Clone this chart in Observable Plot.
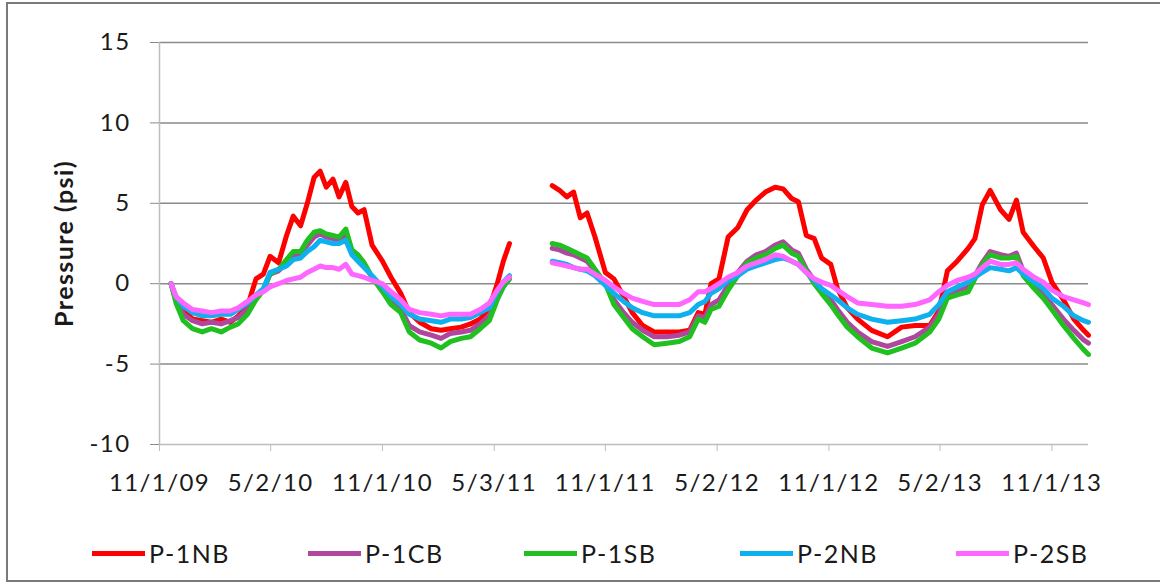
<!DOCTYPE html>
<html><head><meta charset="utf-8">
<script src="https://cdn.jsdelivr.net/npm/d3@7"></script>
<script src="https://cdn.jsdelivr.net/npm/@observablehq/plot@0.6"></script>
<style>
html,body{margin:0;padding:0;background:#fff;overflow:hidden;}
#wrap{position:relative;width:1160px;height:584px;font-family:Lato,"Open Sans",sans-serif;color:#1a1a1a;}
#frame{position:absolute;left:6px;top:2px;width:1170px;height:580px;border:2px solid #7a7a7a;box-sizing:border-box;}
#chart{position:absolute;left:0;top:0;}
#chart svg text{letter-spacing:1.4px;}
#legend{position:absolute;left:0;top:534px;width:1160px;height:38px;}
.li{position:absolute;top:0;height:38px;display:flex;align-items:center;font-size:25px;letter-spacing:1.5px;}
.li span.sw{display:inline-block;width:53px;height:5px;margin-right:4px;}
</style></head>
<body><div id="wrap"><div id="frame"></div><div id="chart"></div><div id="legend"></div></div>
<script>
const seriesNames = ["P-1NB","P-1CB","P-1SB","P-2NB","P-2SB"];
const seriesColors = ["#ff0000","#b0479f","#1fc01f","#0fb0ee","#ff66ff"];
const tickDates = ["2009-11-01","2010-05-02","2010-11-01","2011-05-03","2011-11-01","2012-05-02","2012-11-01","2013-05-02","2013-11-01"];
const tickLabels = ["11/1/09","5/2/10","11/1/10","5/3/11","11/1/11","5/2/12","11/1/12","5/2/13","11/1/13"];
const yTicks = [-10,-5,0,5,10,15];
const yTickLabels = ["-10","-5","0","5","10","15"];
const dates = [
"2009-11-20","2009-11-28","2009-12-10","2009-12-25","2010-01-10","2010-01-25","2010-02-10","2010-02-25","2010-03-10","2010-03-25",
"2010-04-08","2010-04-20","2010-05-01","2010-05-15","2010-05-28","2010-06-08","2010-06-20","2010-07-01","2010-07-12","2010-07-22",
"2010-08-01","2010-08-12","2010-08-22","2010-09-02","2010-09-12","2010-09-22","2010-10-02","2010-10-15","2010-11-01","2010-11-15",
"2010-12-01","2010-12-15","2011-01-01","2011-01-20","2011-02-05","2011-02-20","2011-03-10","2011-03-25","2011-04-10","2011-04-25",
"2011-05-08","2011-05-18","2011-05-28","2011-07-01",
"2011-08-06","2011-08-18","2011-08-30","2011-09-10","2011-09-21","2011-10-02","2011-10-15","2011-11-01","2011-11-15","2011-12-01",
"2011-12-15","2012-01-01","2012-01-20","2012-02-10","2012-03-01","2012-03-18","2012-04-01","2012-04-12","2012-04-22","2012-05-05",
"2012-05-20","2012-06-05","2012-06-20","2012-07-05","2012-07-20","2012-08-05","2012-08-18","2012-09-01","2012-09-12","2012-09-25",
"2012-10-08","2012-10-20","2012-11-04","2012-11-15","2012-12-01","2012-12-18","2013-01-10","2013-02-05","2013-02-28","2013-03-22",
"2013-04-15","2013-04-30","2013-05-14","2013-05-30","2013-06-17","2013-06-28","2013-07-10","2013-07-23","2013-08-09","2013-08-23",
"2013-09-04","2013-09-15","2013-10-03","2013-10-18","2013-11-01","2013-11-20","2013-12-07","2013-12-23","2013-12-31"];
const p1nb = [0.0,-1.0,-1.6,-2.2,-2.3,-2.4,-2.2,-2.4,-2.0,-1.4,
0.3,0.6,1.7,1.3,3.0,4.2,3.6,5.0,6.6,7.0,
6.0,6.5,5.4,6.3,4.8,4.4,4.6,2.4,1.4,0.4,
-0.6,-1.8,-2.4,-2.8,-2.9,-2.8,-2.7,-2.5,-2.2,-1.5,
0.0,1.4,2.5,null,
6.1,5.8,5.4,5.7,4.1,4.4,2.9,0.7,0.3,-0.8,
-1.8,-2.6,-3.0,-3.0,-3.0,-2.9,-1.8,-1.9,0.0,0.3,
2.9,3.5,4.6,5.2,5.7,6.0,5.9,5.3,5.1,3.0,
2.8,1.6,1.2,-0.3,-1.5,-2.2,-2.9,-3.3,-2.7,-2.6,
-2.6,-1.7,0.8,1.4,2.2,2.8,4.9,5.8,4.6,4.0,
5.2,3.2,2.3,1.6,0.1,-1.0,-2.2,-2.9,-3.2];
const p1cb = [0.0,-1.0,-1.9,-2.3,-2.5,-2.4,-2.5,-2.3,-2.1,-1.6,
-0.9,-0.4,0.6,0.8,1.3,1.8,1.8,2.4,2.9,3.1,
2.9,2.8,2.7,3.1,2.0,1.6,1.2,0.4,-0.4,-1.1,
-1.6,-2.6,-3.0,-3.2,-3.4,-3.1,-3.0,-2.9,-2.5,-2.0,
-0.8,-0.1,0.3,null,
2.2,2.1,1.9,1.8,1.6,1.4,0.8,0.0,-1.0,-1.8,
-2.4,-2.9,-3.3,-3.3,-3.2,-3.0,-2.0,-2.1,-1.3,-1.0,
-0.1,0.7,1.4,1.8,2.0,2.4,2.6,2.1,1.9,0.9,
0.2,-0.4,-1.0,-1.6,-2.4,-3.0,-3.6,-3.9,-3.6,-3.3,
-2.7,-1.9,-0.7,-0.4,-0.2,0.5,1.3,2.0,1.8,1.7,
1.9,0.8,0.0,-0.6,-1.3,-2.2,-2.9,-3.5,-3.7];
const p1sb = [0.0,-1.2,-2.3,-2.8,-3.0,-2.8,-3.0,-2.7,-2.5,-1.9,
-1.0,-0.4,0.6,0.9,1.5,2.0,2.0,2.7,3.2,3.3,
3.1,3.0,2.9,3.4,2.1,1.8,1.3,0.4,-0.5,-1.3,
-1.8,-3.0,-3.5,-3.7,-4.0,-3.6,-3.4,-3.3,-2.8,-2.3,
-1.0,-0.2,0.3,null,
2.5,2.4,2.2,2.0,1.8,1.6,0.9,0.0,-1.3,-2.1,
-2.8,-3.3,-3.8,-3.7,-3.6,-3.3,-2.2,-2.4,-1.6,-1.4,
-0.4,0.5,1.3,1.6,1.8,2.2,2.4,1.9,1.7,0.8,
0.0,-0.6,-1.3,-1.9,-2.7,-3.3,-4.0,-4.3,-4.0,-3.7,
-3.0,-2.2,-0.9,-0.7,-0.5,0.3,1.2,1.8,1.6,1.6,
1.7,0.5,-0.3,-0.9,-1.6,-2.6,-3.4,-4.1,-4.4];
const p2nb = [0.0,-0.8,-1.4,-1.8,-2.0,-2.0,-1.9,-1.9,-1.6,-1.2,
-0.7,-0.3,0.7,0.9,1.1,1.5,1.6,2.0,2.3,2.7,
2.6,2.5,2.5,2.7,1.8,1.4,1.0,0.5,-0.2,-0.8,
-1.3,-1.9,-2.2,-2.3,-2.4,-2.2,-2.2,-2.1,-1.8,-1.5,
-0.5,0.1,0.5,null,
1.4,1.3,1.2,1.0,0.9,0.8,0.5,-0.1,-0.6,-1.1,
-1.5,-1.8,-2.0,-2.0,-2.0,-1.8,-1.3,-1.1,-0.6,-0.3,
0.2,0.5,0.9,1.1,1.3,1.5,1.6,1.4,1.2,0.7,
0.2,-0.3,-0.7,-1.0,-1.5,-1.9,-2.2,-2.4,-2.3,-2.2,
-1.9,-1.3,-0.5,-0.2,0.1,0.4,0.7,1.0,0.9,0.8,
1.0,0.6,0.1,-0.3,-0.9,-1.4,-2.0,-2.3,-2.4];
const p2sb = [0.0,-0.8,-1.2,-1.6,-1.7,-1.8,-1.7,-1.7,-1.5,-1.1,
-0.7,-0.5,-0.2,0.0,0.2,0.3,0.4,0.7,0.9,1.1,
1.0,1.0,0.9,1.2,0.6,0.5,0.4,0.2,0.0,-0.5,
-1.0,-1.6,-1.8,-1.9,-2.0,-1.9,-1.9,-1.9,-1.6,-1.2,
-0.4,0.1,0.4,null,
1.3,1.2,1.1,1.0,0.9,0.9,0.6,0.2,-0.2,-0.6,
-0.9,-1.1,-1.3,-1.3,-1.3,-1.0,-0.5,-0.5,-0.3,0.0,
0.4,0.7,1.1,1.3,1.5,1.8,1.7,1.4,1.2,0.7,
0.3,0.1,-0.1,-0.4,-0.8,-1.2,-1.3,-1.4,-1.4,-1.3,
-1.0,-0.5,-0.1,0.2,0.4,0.6,1.0,1.4,1.2,1.2,
1.3,0.9,0.4,0.1,-0.4,-0.8,-1.0,-1.2,-1.3];

const valueArrays = [p1nb,p1cb,p1sb,p2nb,p2sb];
const parse = s => new Date(s + "T00:00:00Z");
const rows = [];
seriesNames.forEach((name, si) => {
  dates.forEach((d, i) => rows.push({series: name, date: parse(d), value: valueArrays[si][i]}));
});
const labelMap = new Map(tickDates.map((d, i) => [+parse(d), tickLabels[i]]));
const yLabelMap = new Map(yTicks.map((v, i) => [v, yTickLabels[i]]));

const chart = Plot.plot({
  width: 1160, height: 500,
  marginLeft: 159, marginRight: 72, marginTop: 42, marginBottom: 56,
  style: {fontFamily: "Lato, 'Open Sans', sans-serif", color: "#1a1a1a", background: "transparent"},
  x: {type: "utc", domain: [parse("2009-11-01"), parse("2013-12-31")]},
  y: {domain: [-10, 15]},
  color: {domain: seriesNames, range: seriesColors},
  marks: [
    Plot.ruleY(yTicks.filter(v => v > -10), {stroke: "#8a8a8a", strokeWidth: 1.5}),
    Plot.ruleY([-10], {stroke: "#bdbdbd", strokeWidth: 1.5}),
    Plot.ruleX([parse("2009-11-01")], {stroke: "#bdbdbd", strokeWidth: 1.5}),
    Plot.axisY({ticks: yTicks, tickFormat: v => yLabelMap.get(v), tickSize: 9, tickPadding: 20, stroke: "#8a8a8a", fontSize: 24, label: null}),
    Plot.axisX({ticks: tickDates.map(parse), tickFormat: d => labelMap.get(+d), tickSize: 7, tickPadding: 22, stroke: "#bdbdbd", fontSize: 24, label: null}),
    Plot.text(["Pressure (psi)"], {frameAnchor: "left", textAnchor: "middle", rotate: -90, dx: -95, fontWeight: "bold", fontSize: 25, text: d => d, fill: "#1a1a1a"}),
    Plot.line(rows, {x: "date", y: "value", z: "series", stroke: "series", strokeWidth: 5, curve: "linear", strokeLinejoin: "round"})
  ]
});
document.getElementById("chart").appendChild(chart);

const legend = document.getElementById("legend");
seriesNames.forEach((name, i) => {
  const item = document.createElement("div");
  item.className = "li";
  item.style.left = (92 + i * 216) + "px";
  const sw = document.createElement("span");
  sw.className = "sw";
  sw.style.background = seriesColors[i];
  item.appendChild(sw);
  item.appendChild(document.createTextNode(name));
  legend.appendChild(item);
});
</script></body></html>
